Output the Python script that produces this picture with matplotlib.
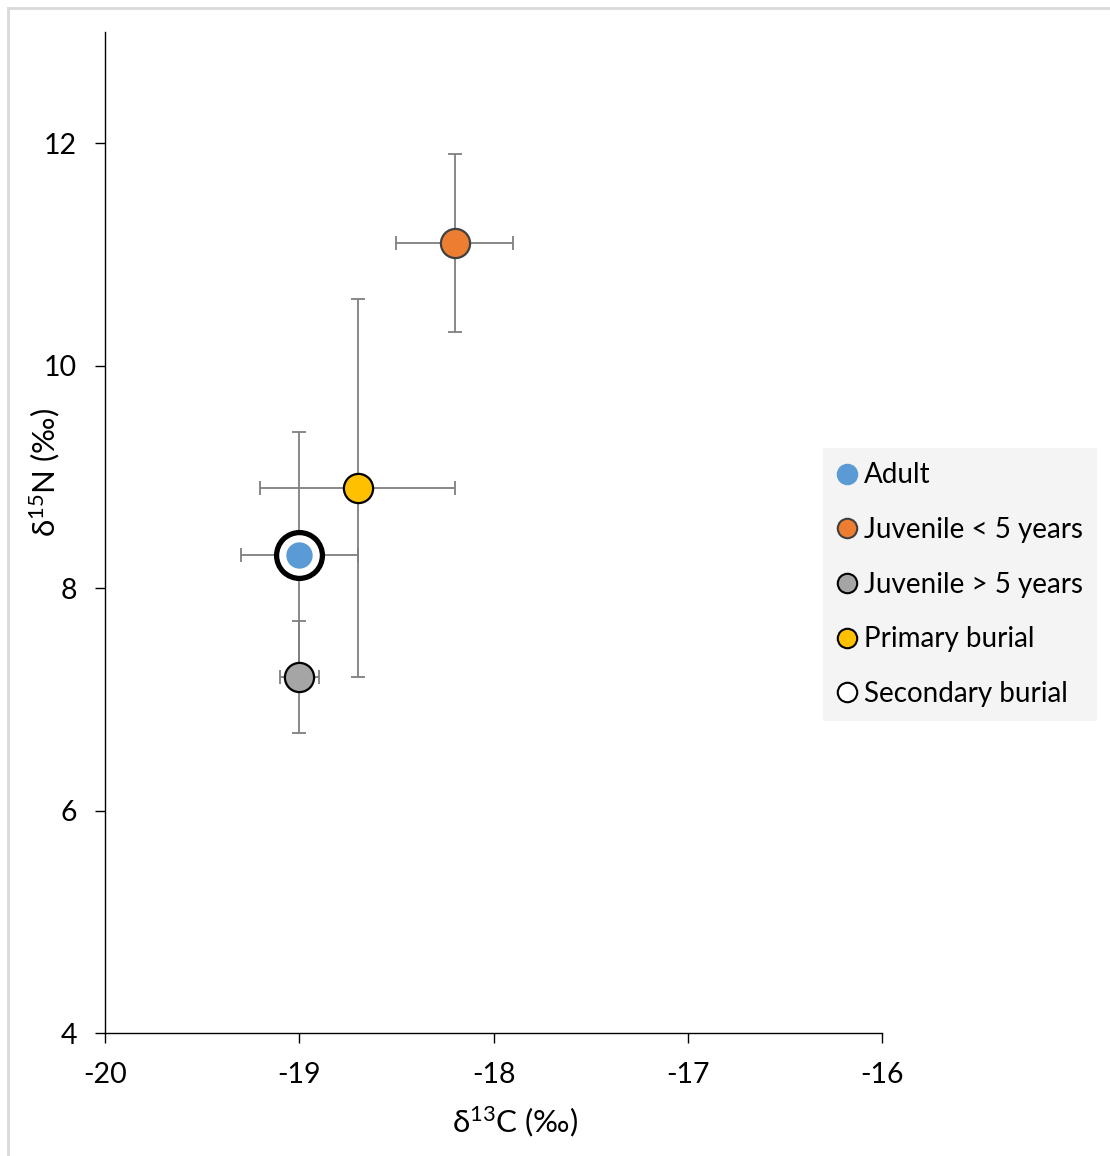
import matplotlib
matplotlib.use("Agg")
import matplotlib.pyplot as plt
from matplotlib.lines import Line2D

plt.rcParams['font.family'] = ['Lato', 'DejaVu Sans']
plt.rcParams['mathtext.fontset'] = 'custom'
plt.rcParams['mathtext.rm'] = 'Lato'
plt.rcParams['mathtext.it'] = 'Lato:italic'
plt.rcParams['mathtext.bf'] = 'Lato:bold'

# ---- data ----
groups = ["Adult", "Juvenile < 5 years", "Juvenile > 5 years", "Primary burial"]
d13C = [-19.0, -18.2, -19.0, -18.7]
d15N = [8.3, 11.1, 7.2, 8.9]
xerr = [0.3, 0.3, 0.1, 0.5]
yerr = [1.1, 0.8, 0.5, 1.7]
colors = ["#5b9bd5", "#ed7d31", "#a5a5a5", "#ffc000"]
edges = ["none", "#404040", "#000000", "#000000"]

secondary_label = "Secondary burial"
secondary_x = [-19.0]
secondary_y = [8.3]

xticks = [-20, -19, -18, -17, -16]
yticks = [4, 6, 8, 10, 12]

W, H = 1110, 1156
fig = plt.figure(figsize=(W / 100, H / 100), dpi=100)
ax = fig.add_axes([105 / W, 1 - 1033 / H, (882 - 105) / W, (1033 - 32) / H])

# error bars
for x, y, xe, ye in zip(d13C, d15N, xerr, yerr):
    ax.errorbar(x, y, xerr=xe, yerr=ye, fmt='none', ecolor='#7f7f7f',
                elinewidth=1.3, capsize=4.8, capthick=1.3, zorder=2)

# secondary burial ring
ax.plot(secondary_x, secondary_y, linestyle='none', marker='o', markersize=33,
        markerfacecolor='white', markeredgecolor='black', markeredgewidth=3.8, zorder=3)

# group markers
for x, y, c, e in zip(d13C, d15N, colors, edges):
    ms = 19 if e == "none" else 21
    ax.plot([x], [y], linestyle='none', marker='o', markersize=ms,
            markerfacecolor=c, markeredgecolor=e,
            markeredgewidth=0 if e == "none" else 1.6, zorder=4)

ax.set_xlim(-20, -16)
ax.set_ylim(4, 13)
ax.set_xticks(xticks)
ax.set_yticks(yticks)
ax.set_xticklabels([str(t) for t in xticks])
ax.set_yticklabels([str(t) for t in yticks])
ax.spines['top'].set_visible(False)
ax.spines['right'].set_visible(False)
for s in ('left', 'bottom'):
    ax.spines[s].set_linewidth(1.0)
    ax.spines[s].set_color('#000000')
ax.tick_params(direction='out', length=7, width=1.0, labelsize=20.5, colors='#000000')
ax.tick_params(axis='x', pad=14)
ax.tick_params(axis='y', pad=13)

fig.text(515 / W, 1 - 1122 / H, r"δ$^{13}$C (‰)", ha='center', va='center', fontsize=22.5)
fig.text(45 / W, 1 - 472 / H, r"δ$^{15}$N (‰)", ha='center', va='center', fontsize=22.5,
         rotation=90)

# legend
handles = []
labels = groups + [secondary_label]
for c, e in zip(colors, edges):
    handles.append(Line2D([], [], linestyle='none', marker='o', markersize=14,
                          markerfacecolor=c, markeredgecolor=e if e != "none" else c,
                          markeredgewidth=1.5))
handles.append(Line2D([], [], linestyle='none', marker='o', markersize=14,
                      markerfacecolor='white', markeredgecolor='black', markeredgewidth=1.5))
leg = fig.legend(handles, labels, loc='upper left',
                 bbox_to_anchor=(823 / W, 1 - 448 / H), fontsize=20,
                 frameon=True, fancybox=False, handlelength=0.7, handletextpad=0.25,
                 labelspacing=1.03, borderpad=0.52, borderaxespad=0)
leg.get_frame().set_facecolor('#f2f2f2')
leg.get_frame().set_edgecolor('none')

# outer frame lines (left and top)
fig.add_artist(Line2D([8 / W, 8 / W], [0, 1 - 8 / H], transform=fig.transFigure,
                      color='#d9d9d9', linewidth=2))
fig.add_artist(Line2D([8 / W, 1], [1 - 8 / H, 1 - 8 / H], transform=fig.transFigure,
                      color='#d9d9d9', linewidth=2))

fig.savefig("out.png", dpi=100)
